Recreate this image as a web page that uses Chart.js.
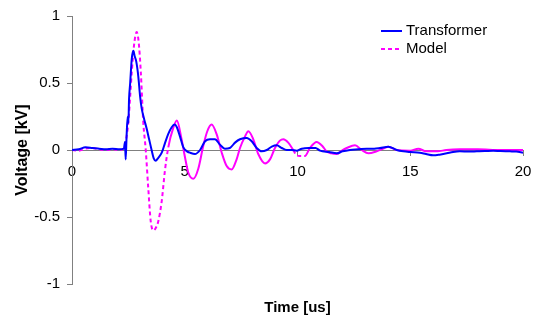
<!DOCTYPE html>
<html>
<head>
<meta charset="utf-8">
<script src="https://cdn.jsdelivr.net/npm/chart.js@4"></script>
<style>
  html, body { margin: 0; padding: 0; background: #fff; }
  #wrap { width: 533px; height: 322px; }
</style>
</head>
<body>
<div id="wrap"><canvas id="voltageChart" width="533" height="322"></canvas></div>
<script>
// Measured transformer response (time in us, voltage in kV)
const timeT = [0, 0.3, 0.6, 0.9, 1.2, 1.5, 1.8, 2.1, 2.3, 2.35, 2.38, 2.42, 2.47, 2.5, 2.53, 2.58, 2.65, 2.72, 2.78, 2.85,
    2.94, 3.02, 3.09, 3.2, 3.31, 3.42, 3.53, 3.62, 3.71, 3.82, 3.98, 4.12, 4.27, 4.42, 4.55, 4.65, 4.79, 4.94, 5.1, 5.23,
    5.45, 5.68, 5.9, 6.12, 6.34, 6.56, 6.78, 7.0, 7.23, 7.45, 7.75, 7.97, 8.19, 8.41, 8.64, 8.86, 9.08, 9.3, 9.52, 9.74,
    9.96, 10.19, 10.5, 10.8, 11.0, 11.4, 11.74, 12.0, 12.33, 12.7, 13.07, 13.4, 13.66, 14.03, 14.4, 14.7, 15.0, 15.43, 15.7, 16.02,
    16.3, 16.62, 16.9, 17.2, 17.6, 17.95, 18.3, 18.68, 19.0, 19.42, 19.7, 20.0];
const voltT = [0, 0.005, 0.02, 0.015, 0.01, 0.005, 0.01, 0.005, 0.01, 0.06, -0.07, 0.1, 0.25, 0.2, 0.38, 0.5, 0.68, 0.74, 0.7, 0.66,
    0.55, 0.4, 0.31, 0.23, 0.16, 0.08, 0.0, -0.06, -0.08, -0.06, -0.02, 0.05, 0.12, 0.17, 0.19, 0.17, 0.1, 0.02, -0.01, -0.02,
    -0.03, 0.0, 0.065, 0.08, 0.08, 0.04, 0.01, 0.015, 0.055, 0.08, 0.09, 0.065, 0.015, -0.01, 0.0, 0.025, 0.035, 0.015, 0.0, 0.0,
    -0.005, 0.01, 0.015, 0.015, -0.005, -0.015, -0.025, -0.01, 0.0, 0.005, 0.01, 0.01, 0.015, 0.025, 0.0, -0.01, -0.015, -0.02, -0.03, -0.04,
    -0.035, -0.025, -0.015, -0.01, -0.012, -0.01, -0.008, -0.005, -0.008, -0.01, -0.012, -0.02];

// Simulated model response
const timeM = [0, 0.3, 0.6, 0.9, 1.2, 1.5, 1.8, 2.1, 2.28, 2.4, 2.5, 2.58, 2.65, 2.75, 2.87, 2.96, 3.05, 3.16, 3.27, 3.38,
    3.49, 3.61, 3.72, 3.83, 3.98, 4.12, 4.27, 4.49, 4.65, 4.86, 5.0, 5.16, 5.38, 5.6, 5.82, 6.0, 6.19, 6.42, 6.64, 6.86,
    7.08, 7.3, 7.45, 7.67, 7.82, 8.04, 8.26, 8.56, 8.78, 9.0, 9.22, 9.37, 9.59, 9.81, 9.96, 10.1, 10.33, 10.55, 10.85, 11.1,
    11.29, 11.5, 11.74, 12.0, 12.18, 12.55, 12.85, 13.14, 13.51, 13.8, 14.03, 14.4, 15.0, 15.36, 15.7, 16.2, 16.6, 17.2, 18.0, 19.0, 20.0];
const voltM = [0, -0.005, 0.01, 0.015, 0.005, 0.0, 0.005, 0.0, 0.01, 0.08, 0.21, 0.4, 0.58, 0.78, 0.88, 0.8, 0.585, 0.21, 0.0, -0.28,
    -0.53, -0.6, -0.58, -0.53, -0.38, -0.155, 0.02, 0.165, 0.22, 0.08, -0.045, -0.17, -0.215, -0.14, 0.03, 0.14, 0.19, 0.115, -0.02, -0.12,
    -0.145, -0.07, 0.015, 0.1, 0.14, 0.08, -0.03, -0.1, -0.07, 0.015, 0.07, 0.08, 0.055, 0.0, -0.04, -0.045, -0.045, 0.015, 0.06, 0.03,
    -0.01, -0.025, -0.03, 0.0, 0.015, 0.035, 0.0, -0.025, -0.01, 0.01, 0.025, 0.0, -0.005, 0.01, -0.01, -0.01, 0.0, 0.005, 0.005, 0.0, 0.0];

const xTicks = { min: 0, max: 20, step: 5 };
const yTicks = { min: -1, max: 1, step: 0.5 };

const FONT = 'Liberation Sans, Arial, sans-serif';
const AXIS_GREY = '#808080';

function toPoints(xs, ys) {
    return xs.map((x, i) => ({ x: x, y: ys[i] }));
}

// Legend drawn inside the plot, top right, like the original
const cornerLegend = {
    id: 'cornerLegend',
    afterDraw(chart) {
        const ctx = chart.ctx;
        ctx.save();
        ctx.font = '15px ' + FONT;
        ctx.textBaseline = 'middle';
        ctx.fillStyle = '#000';
        chart.data.datasets.forEach((ds, i) => {
            const y = 31 + i * 18;
            ctx.beginPath();
            ctx.strokeStyle = ds.borderColor;
            ctx.lineWidth = 2;
            ctx.setLineDash(ds.legendDash || []);
            ctx.moveTo(381, y);
            ctx.lineTo(402, y);
            ctx.stroke();
            ctx.setLineDash([]);
            ctx.fillText(ds.label, 406, y);
        });
        ctx.restore();
    }
};

const ctx = document.getElementById('voltageChart').getContext('2d');
new Chart(ctx, {
    type: 'line',
    data: {
        datasets: [{
            label: 'Transformer',
            data: toPoints(timeT, voltT),
            borderColor: '#0000FF',
            borderWidth: 2,
            pointRadius: 0,
            cubicInterpolationMode: 'monotone'
        }, {
            label: 'Model',
            data: toPoints(timeM, voltM),
            borderColor: '#FF00FF',
            borderWidth: 2,
            pointRadius: 0,
            cubicInterpolationMode: 'monotone',
            legendDash: [4, 3],
            segment: {
                // dashes show where the trace is straight/steep, solid on the ringing
                borderDash: c => {
                    const t = timeM[c.p1DataIndex];
                    return (t <= 4.4 || (t > 9.9 && t <= 10.4)) ? [4, 3] : undefined;
                }
            }
        }]
    },
    options: {
        responsive: false,
        animation: false,
        layout: { padding: { top: 14, right: 10, left: 0, bottom: 0 } },
        plugins: {
            legend: { display: false },
            tooltip: { enabled: false }
        },
        scales: {
            x: {
                type: 'linear',
                position: { y: 0 },
                min: xTicks.min,
                max: xTicks.max,
                ticks: {
                    stepSize: xTicks.step,
                    padding: 8,
                    color: '#000',
                    maxRotation: 0,
                    font: { family: FONT, size: 15 }
                },
                grid: { drawOnChartArea: false, tickLength: 5, color: AXIS_GREY },
                border: { color: AXIS_GREY, width: 1 },
                // the "20" label may hang past the plot edge, as in the original
                afterFit(scale) { scale.paddingRight = 0; }
            },
            xTitle: {
                type: 'linear',
                position: 'bottom',
                min: xTicks.min,
                max: xTicks.max,
                ticks: { display: false },
                grid: { display: false, drawTicks: false },
                border: { display: false },
                title: {
                    display: true,
                    text: 'Time [us]',
                    color: '#000',
                    font: { family: FONT, size: 15, weight: 'bold' },
                    padding: { top: 0, bottom: 5 }
                },
                afterFit(scale) { scale.height = 38; }
            },
            y: {
                type: 'linear',
                position: 'left',
                min: yTicks.min,
                max: yTicks.max,
                ticks: {
                    stepSize: yTicks.step,
                    padding: 7,
                    color: '#000',
                    font: { family: FONT, size: 15 },
                    callback: v => v.toString()
                },
                grid: { drawOnChartArea: false, tickLength: 5, color: AXIS_GREY },
                border: { color: AXIS_GREY, width: 1 },
                title: {
                    display: true,
                    text: 'Voltage [kV]',
                    color: '#000',
                    font: { family: FONT, size: 16, weight: 'bold' },
                    padding: { top: 13, bottom: 0 }
                },
                afterFit(scale) { scale.width = 72; }
            }
        }
    },
    plugins: [cornerLegend]
});
</script>
</body>
</html>
